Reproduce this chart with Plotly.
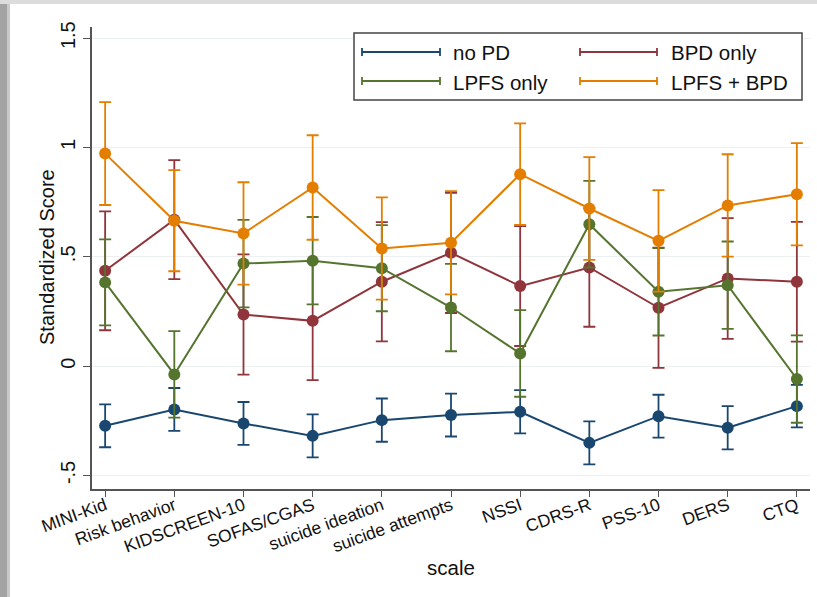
import plotly.graph_objects as go

# ---- data ----
scales = ["MINI-Kid", "Risk behavior", "KIDSCREEN-10", "SOFAS/CGAS", "suicide ideation",
          "suicide attempts", "NSSI", "CDRS-R", "PSS-10", "DERS", "CTQ"]

no_pd      = [-0.273, -0.198, -0.262, -0.319, -0.247, -0.224, -0.209, -0.351, -0.229, -0.282, -0.183]
no_pd_ci   = [0.098, 0.098, 0.098, 0.098, 0.099, 0.098, 0.099, 0.098, 0.098, 0.099, 0.097]

bpd_only    = [0.436, 0.670, 0.236, 0.207, 0.386, 0.518, 0.366, 0.451, 0.267, 0.401, 0.386]
bpd_only_ci = [0.272, 0.272, 0.275, 0.271, 0.273, 0.275, 0.274, 0.271, 0.275, 0.276, 0.274]

lpfs_only    = [0.383, -0.038, 0.469, 0.482, 0.448, 0.268, 0.058, 0.649, 0.340, 0.370, -0.059]
lpfs_only_ci = [0.197, 0.198, 0.200, 0.200, 0.197, 0.200, 0.198, 0.198, 0.200, 0.200, 0.200]

lpfs_bpd    = [0.972, 0.665, 0.607, 0.817, 0.538, 0.564, 0.878, 0.721, 0.573, 0.735, 0.786]
lpfs_bpd_ci = [0.235, 0.231, 0.234, 0.239, 0.234, 0.236, 0.232, 0.235, 0.232, 0.234, 0.234]

ytick_vals = [-0.5, 0, 0.5, 1, 1.5]
ytick_text = ["-.5", "0", ".5", "1", "1.5"]

x_title = "scale"
y_title = "Standardized Score"

groups = [
    ("no PD", no_pd, no_pd_ci, "#1a476f"),
    ("BPD only", bpd_only, bpd_only_ci, "#90353b"),
    ("LPFS only", lpfs_only, lpfs_only_ci, "#55752f"),
    ("LPFS + BPD", lpfs_bpd, lpfs_bpd_ci, "#e37e00"),
]

# ---- layout geometry (pixels) ----
W, H = 817, 597
ML, MR, MT, MB = 92, 7, 27, 108
PW, PH = W - ML - MR, H - MT - MB

def px(x):
    return (x - ML) / PW

def py(y):
    return (H - MB - y) / PH

fig = go.Figure()
for name, vals, ci, col in groups:
    fig.add_trace(go.Scatter(
        x=scales, y=vals, name=name, mode="lines+markers",
        line=dict(color=col, width=2),
        marker=dict(color=col, size=12),
        error_y=dict(type="data", array=ci, symmetric=True, color=col,
                     thickness=1.8, width=6),
        showlegend=False,
    ))

font = "Liberation Sans, Arial, sans-serif"
shapes = []
annotations = []

# left / top frame strips of the screenshot
shapes.append(dict(type="rect", xref="paper", yref="paper", x0=px(0), x1=px(7), y0=py(H), y1=py(0),
                   fillcolor="#a3a3a3", line=dict(width=0), layer="below"))
shapes.append(dict(type="rect", xref="paper", yref="paper", x0=px(7), x1=px(10), y0=py(H), y1=py(0),
                   fillcolor="#c9c9c9", line=dict(width=0), layer="below"))
shapes.append(dict(type="rect", xref="paper", yref="paper", x0=px(0), x1=px(W), y0=py(4), y1=py(0),
                   fillcolor="#dcdcdc", line=dict(width=0), layer="below"))

# manual legend
shapes.append(dict(type="rect", xref="paper", yref="paper", x0=px(354), x1=px(802), y0=py(100), y1=py(33),
                   fillcolor="white", line=dict(color="#444444", width=1.5)))
cols_x = [(362, 440, 453), (580, 657, 671)]
rows_y = [52, 81]
positions = {0: (0, 0), 2: (0, 1), 1: (1, 0), 3: (1, 1)}
for gi, (name, vals, ci, col) in enumerate(groups):
    c, r = positions[gi]
    x0, x1, xt = cols_x[c]
    yy = rows_y[r]
    shapes.append(dict(type="line", xref="paper", yref="paper", x0=px(x0), x1=px(x1), y0=py(yy), y1=py(yy),
                       line=dict(color=col, width=1.8)))
    for xe in (x0, x1):
        shapes.append(dict(type="line", xref="paper", yref="paper", x0=px(xe), x1=px(xe),
                           y0=py(yy - 4), y1=py(yy + 4), line=dict(color=col, width=1.8)))
    annotations.append(dict(xref="paper", yref="paper", x=px(xt - 2), y=py(yy + 1), text=name,
                            showarrow=False, xanchor="left", yanchor="middle",
                            font=dict(family=font, size=20.5, color="#111111")))

# y-axis title
annotations.append(dict(xref="paper", yref="paper", x=px(47), y=py(257), text=y_title,
                        textangle=-90, showarrow=False, xanchor="center", yanchor="middle",
                        font=dict(family=font, size=20, color="#111111")))

fig.update_layout(
    width=W, height=H,
    margin=dict(l=ML, r=MR, t=MT, b=MB),
    paper_bgcolor="white", plot_bgcolor="white",
    font=dict(family=font, color="#111111"),
    shapes=shapes, annotations=annotations,
    showlegend=False,
)
fig.update_xaxes(
    type="category", range=[-0.19, 10.19],
    showline=True, linecolor="#555555", linewidth=1.5,
    ticks="outside", ticklen=6, tickcolor="#555555", tickwidth=1.3,
    tickangle=-20, tickfont=dict(family=font, size=17.5, color="#111111"),
    ticklabelstandoff=-8,
    showgrid=False, zeroline=False,
    title=dict(text=x_title, font=dict(family=font, size=20.5, color="#111111"), standoff=0),
)
fig.update_yaxes(
    range=[-0.562, 1.551],
    tickvals=ytick_vals, ticktext=ytick_text, tickangle=-90,
    showline=True, linecolor="#555555", linewidth=1.5,
    ticks="outside", ticklen=7, tickcolor="#555555", tickwidth=1.3,
    tickfont=dict(family=font, size=20, color="#111111"),
    showgrid=True, gridcolor="#ecf0f0", gridwidth=1, zeroline=False,
)

fig.write_html("out.html")
